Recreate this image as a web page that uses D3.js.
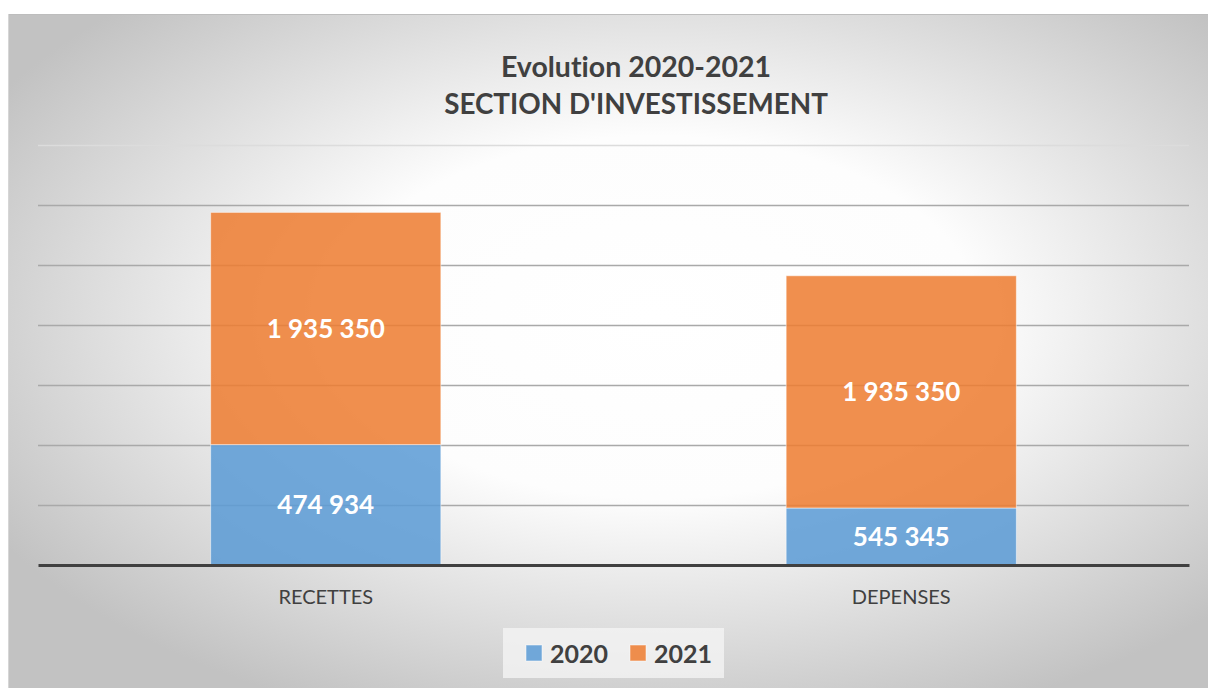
<!DOCTYPE html>
<html><head><meta charset="utf-8">
<script src="https://cdn.jsdelivr.net/npm/d3@7"></script>
<style>html,body{margin:0;padding:0;background:#fff;}svg{display:block;}text{font-variant-ligatures:none;font-feature-settings:"liga" 0;}</style>
</head><body>
<script>
const categories = ["RECETTES", "DEPENSES"];
const seriesNames = ["2020", "2021"];
const values2020 = [1003000, 474934];
const values2021 = [1935350, 1935350];
const labels2020 = ["474 934", "545 345"];
const labels2021 = ["1 935 350", "1 935 350"];
const yTicks = [0, 500000, 1000000, 1500000, 2000000, 2500000, 3000000, 3500000];
const titleLines = ["Evolution 2020-2021", "SECTION D'INVESTISSEMENT"];
const colors = ["#5b9bd5", "#ed7d31"];

(function () {
const W = 1208, H = 688;
const svg = d3.select("body").append("svg").attr("width", W).attr("height", H);
const defs = svg.append("defs");
const grad = defs.append("radialGradient").attr("id", "bg")
  .attr("cx", "54%").attr("cy", "45%").attr("r", "64%");
grad.append("stop").attr("offset", "0%").attr("stop-color", "#ffffff");
grad.append("stop").attr("offset", "42%").attr("stop-color", "#fdfdfd");
grad.append("stop").attr("offset", "100%").attr("stop-color", "#c2c2c2");

svg.append("rect").attr("x", 8).attr("y", 14).attr("width", W - 8).attr("height", H - 14)
  .attr("fill", "url(#bg)");
svg.append("line").attr("x1", 8).attr("x2", W).attr("y1", 14.5).attr("y2", 14.5)
  .attr("stroke", "#bdbdbd").attr("stroke-width", 1);
svg.append("line").attr("x1", 8.5).attr("x2", 8.5).attr("y1", 14).attr("y2", H)
  .attr("stroke", "#d6d6d6").attr("stroke-width", 1);

const font = "Lato, 'Open Sans', sans-serif";
const pLeft = 38, pRight = 1189, pTop = 145, pBottom = 565;

const x = d3.scaleBand().domain(categories).range([pLeft, pRight]).paddingInner(0.6).paddingOuter(0.3);
const y = d3.scaleLinear().domain([0, 3500000]).range([pBottom, pTop]);

// gridlines
const grid = svg.append("g").attr("transform", `translate(${pLeft},0)`)
  .call(d3.axisLeft(y).tickValues(yTicks).tickSize(-(pRight - pLeft)).tickFormat(""));
grid.select(".domain").remove();
grid.selectAll(".tick line").attr("stroke", (d, i) => i === yTicks.length - 1 ? "#dcdcdc" : "#a9a9a9").attr("stroke-width", 1.5);
grid.selectAll(".tick").filter(d => d === 0).remove();

// stacked data
const rows = categories.map((c, i) => ({cat: c, "2020": values2020[i], "2021": values2021[i], l2020: labels2020[i], l2021: labels2021[i]}));
const stack = d3.stack().keys(seriesNames)(rows);

const gBars = svg.append("g");
stack.forEach((s, si) => {
  gBars.selectAll(null).data(s).enter().append("rect")
    .attr("x", d => x(d.data.cat))
    .attr("width", x.bandwidth())
    .attr("y", d => y(d[1]))
    .attr("height", d => y(d[0]) - y(d[1]))
    .attr("fill", colors[si]).attr("fill-opacity", 0.86)
    .attr("stroke", "#ffffff").attr("stroke-opacity", 0.5).attr("stroke-width", 1);
});
stack.forEach((s, si) => {
  gBars.selectAll(null).data(s).enter().append("text")
    .attr("x", d => x(d.data.cat) + x.bandwidth() / 2)
    .attr("y", d => (y(d[0]) + y(d[1])) / 2)
    .attr("dy", "0.35em")
    .attr("text-anchor", "middle")
    .attr("fill", "#ffffff").attr("font-family", font).attr("font-weight", "bold").attr("font-size", 26)
    .text(d => d.data["l" + s.key]);
});

// axis
const ax = svg.append("g").attr("transform", `translate(0,${pBottom})`)
  .call(d3.axisBottom(x).tickSize(0).tickPadding(25));
ax.select(".domain").attr("stroke", "#404040").attr("stroke-width", 3);
ax.selectAll("text").attr("font-family", font).attr("font-size", 20).attr("fill", "#404040");

// title
svg.append("g").selectAll("text").data(titleLines).enter().append("text")
  .attr("x", 636).attr("y", (d, i) => 67 + i * 37).attr("dy", "0.35em")
  .attr("text-anchor", "middle").attr("font-family", font).attr("font-weight", "bold")
  .attr("font-size", (d, i) => i === 0 ? 28.5 : 27.8).attr("fill", "#404040").text(d => d);

// legend
const lg = svg.append("g");
lg.append("rect").attr("x", 503).attr("y", 628).attr("width", 221).attr("height", 50).attr("fill", "#f4f4f4").attr("fill-opacity", 0.8);
const legX = [526, 630];
seriesNames.forEach((n, i) => {
  lg.append("rect").attr("x", legX[i]).attr("y", 645).attr("width", 16).attr("height", 16)
    .attr("fill", colors[i]).attr("fill-opacity", 0.86).attr("stroke", "#fff").attr("stroke-opacity", 0.5);
  lg.append("text").attr("x", legX[i] + 24).attr("y", 654).attr("dy", "0.35em")
    .attr("font-family", font).attr("font-weight", "bold").attr("font-size", 25).attr("fill", "#404040").text(n);
});
})();
</script>
</body></html>
